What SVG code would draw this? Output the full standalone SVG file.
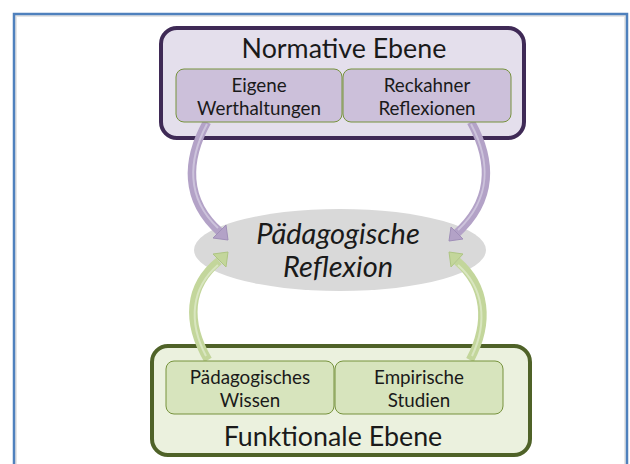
<svg xmlns="http://www.w3.org/2000/svg" width="630" height="464" viewBox="0 0 630 464">
<style>
.t{font-family:Lato,"Liberation Sans",sans-serif;fill:#1a1a1a;text-anchor:middle}
.title{font-size:26.8px}
.small{font-size:18.8px}
.ell{font-size:29px;font-style:italic}
.pshaft{fill:none;stroke:#b3a2c7;stroke-width:8.5;stroke-linecap:butt}
.phl{fill:none;stroke:#cdc3dc;stroke-width:2}
.phead{fill:#b3a2c7;stroke:#a08fb8;stroke-width:1;stroke-linejoin:round}
.gshaft{fill:none;stroke:#c3d69b;stroke-width:8.5;stroke-linecap:butt}
.ghl{fill:none;stroke:#d9e6c0;stroke-width:2}
.ghead{fill:#c3d69b;stroke:#aec583;stroke-width:1;stroke-linejoin:round}
.pin{fill:#ccc0da;stroke:#76923c;stroke-width:1}
.gin{fill:#d7e4bd;stroke:#76923c;stroke-width:1}
</style>
<rect width="630" height="464" fill="#ffffff"/>
<g id="frame">
<rect x="16" y="16" width="609" height="470" fill="none" stroke="#e6e6e6" stroke-width="2"/>
<rect x="14" y="14" width="613" height="470" fill="none" stroke="#4f81bd" stroke-width="2.5"/>
</g>
<g id="normative">
<rect x="161" y="28" width="363" height="110" rx="16" fill="#e4dfec" stroke="#3f2a56" stroke-width="4"/>
<text class="t title" x="344" y="58">Normative Ebene</text>
</g>
<g id="funktional">
<rect x="152" y="346" width="378" height="109" rx="16" fill="#ebf1de" stroke="#4f6228" stroke-width="4"/>
<text class="t title" x="333" y="446">Funktionale Ebene</text>
</g>
<g id="reflexion">
<ellipse cx="340" cy="250" rx="146" ry="41" fill="#d9d9d9"/>
<text class="t ell" x="338" y="244">Pädagogische</text>
<text class="t ell" x="338" y="277">Reflexion</text>
</g>
<g id="connectors">
<path class="pshaft" d="M207,122 C186,160 184,200 220,232"/>
<path class="phl" d="M207,124 C188,160 186,198 218,228"/>
<polygon class="phead" points="228,240 213,238 226,225"/>
<path class="pshaft" d="M471,122 C492,160 494,200 456,234"/>
<path class="phl" d="M471,124 C490,160 492,198 458,230"/>
<polygon class="phead" points="449,241 451,227 463,239"/>
<path class="gshaft" d="M208,360 C186,322 188,286 219,261"/>
<path class="ghl" d="M206,356 C188,322 191,288 218,265"/>
<polygon class="ghead" points="228,252 226,267 213,254"/>
<path class="gshaft" d="M470,360 C490,322 486,286 457,261"/>
<path class="ghl" d="M472,356 C488,322 484,288 458,265"/>
<polygon class="ghead" points="449,252 451,267 463,254"/>
</g>
<g id="werthaltungen">
<rect class="pin" x="176" y="69" width="166" height="53" rx="8"/>
<text class="t small" x="259" y="92">Eigene</text>
<text class="t small" x="259" y="115">Werthaltungen</text>
</g>
<g id="reckahner">
<rect class="pin" x="343" y="69" width="168" height="53" rx="8"/>
<text class="t small" x="427" y="92">Reckahner</text>
<text class="t small" x="427" y="115">Reflexionen</text>
</g>
<g id="wissen">
<rect class="gin" x="166" y="361" width="168" height="53" rx="8"/>
<text class="t small" x="250" y="384">Pädagogisches</text>
<text class="t small" x="250" y="407">Wissen</text>
</g>
<g id="studien">
<rect class="gin" x="335" y="361" width="168" height="53" rx="8"/>
<text class="t small" x="419" y="384">Empirische</text>
<text class="t small" x="419" y="407">Studien</text>
</g>
</svg>
